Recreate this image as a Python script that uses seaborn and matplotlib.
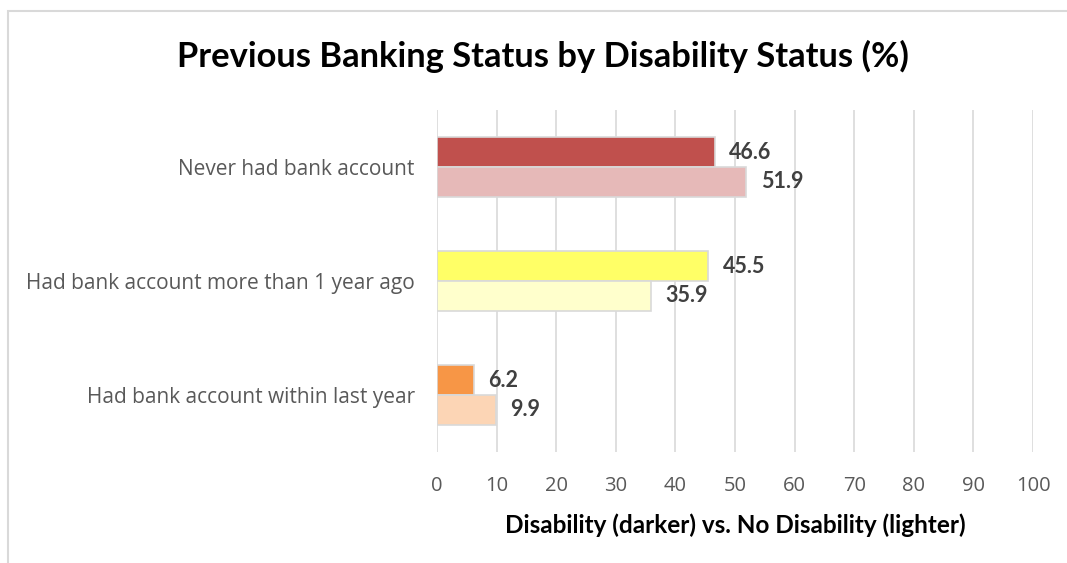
import matplotlib
matplotlib.use("Agg")
import matplotlib.pyplot as plt
import seaborn as sns
import pandas as pd
from matplotlib.patches import Rectangle

categories = ["Never had bank account",
              "Had bank account more than 1 year ago",
              "Had bank account within last year"]
disability = [46.6, 45.5, 6.2]
no_disability = [51.9, 35.9, 9.9]
groups = ["Disability", "No Disability"]
dark_colors = ["#C0504D", "#FFFF66", "#F79646"]
light_colors = ["#E6B9B8", "#FFFFCC", "#FCD5B5"]
x_ticks = [0, 10, 20, 30, 40, 50, 60, 70, 80, 90, 100]

df = pd.DataFrame({
    "category": categories * 2,
    "value": disability + no_disability,
    "group": [groups[0]] * 3 + [groups[1]] * 3,
})

sns.set_theme(style="white")
plt.rcParams["font.family"] = ["Open Sans", "DejaVu Sans"]
bold_family = ["Lato", "DejaVu Sans"]

fig = plt.figure(figsize=(10.67, 5.63), dpi=100)
ax = fig.add_axes([437 / 1067, 1 - 452 / 563, 596 / 1067, 342 / 563])

sns.barplot(data=df, y="category", x="value", hue="group", orient="h",
            order=categories, hue_order=groups, width=0.52,
            palette=["#888888", "#cccccc"], legend=False, ax=ax,
            edgecolor="#D9D9D9", linewidth=1.2)

# darker shade for disability, lighter shade for no disability
for cont, cols, vals in zip(ax.containers, [dark_colors, light_colors],
                            [disability, no_disability]):
    for bar, c, v in zip(cont, cols, vals):
        bar.set_facecolor(c)
        ax.text(v + 2.4, bar.get_y() + bar.get_height() / 2, f"{v:.1f}",
                va="center", ha="left", fontsize=15.5, fontweight="bold",
                color="#404040", family=bold_family)

ax.set_xlim(0, 100)
ax.set_xticks(x_ticks)
ax.set_xticklabels([str(t) for t in x_ticks], fontsize=14.5, color="#595959")
ax.tick_params(axis="y", labelsize=15, labelcolor="#595959", length=0, pad=16)
ax.tick_params(axis="x", length=0, pad=17)
ax.set_ylabel("")
ax.set_xlabel("Disability (darker) vs. No Disability (lighter)", fontsize=17.5,
              fontweight="bold", color="black", labelpad=13,
              family=bold_family)
ax.grid(axis="x", color="#D9D9D9", linewidth=1.2)
ax.set_axisbelow(True)
for s in ax.spines.values():
    s.set_visible(False)

fig.text(543 / 1067, 1 - 56 / 563, "Previous Banking Status by Disability Status (%)",
         ha="center", va="center", fontsize=24.8, fontweight="bold", color="black",
         family=bold_family)

# outer chart frame
fig.patches.append(Rectangle((8 / 1067, -0.1), 1.2, 1 - 11 / 563 + 0.1,
                             transform=fig.transFigure, fill=False,
                             edgecolor="#D9D9D9", linewidth=1.5))

fig.savefig("out.png", dpi=100)
